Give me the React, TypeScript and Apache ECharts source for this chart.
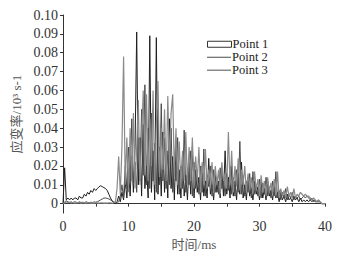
import React, { useEffect, useRef } from "react";
import * as echarts from "echarts";

const STEP = 0.25;

const point1 = [
  0.000, 0.019, 0.002, 0.003, 0.002, 0.003, 0.002, 0.003, 0.003, 0.002,
  0.004, 0.003, 0.003, 0.005, 0.004, 0.006, 0.005, 0.007, 0.006, 0.008,
  0.007, 0.008, 0.009, 0.0095, 0.009, 0.0085, 0.008, 0.007, 0.005, 0.003,
  0.0015, 0.0005, 0.000, 0.001, 0.004, 0.001, 0.006, 0.002, 0.012, 0.003,
  0.018, 0.004, 0.025, 0.006, 0.030, 0.091, 0.010, 0.035, 0.004, 0.042,
  0.008, 0.020, 0.003, 0.089, 0.006, 0.028, 0.002, 0.088, 0.005, 0.030,
  0.004, 0.038, 0.006, 0.022, 0.003, 0.045, 0.008, 0.025, 0.002, 0.030,
  0.005, 0.018, 0.003, 0.026, 0.004, 0.015, 0.002, 0.022, 0.005, 0.030,
  0.003, 0.018, 0.006, 0.014, 0.002, 0.020, 0.004, 0.012, 0.003, 0.024,
  0.005, 0.010, 0.002, 0.016, 0.006, 0.012, 0.003, 0.018, 0.004, 0.028,
  0.005, 0.014, 0.003, 0.020, 0.004, 0.012, 0.002, 0.016, 0.005, 0.022,
  0.003, 0.010, 0.002, 0.014, 0.004, 0.008, 0.002, 0.012, 0.005, 0.009,
  0.002, 0.011, 0.003, 0.008, 0.002, 0.012, 0.004, 0.007, 0.002, 0.009,
  0.003, 0.006, 0.001, 0.006, 0.002, 0.004, 0.001, 0.005, 0.002, 0.003,
  0.001, 0.004, 0.002, 0.003, 0.001, 0.003, 0.001, 0.002, 0.001, 0.002,
  0.001, 0.002, 0.001, 0.002, 0.001, 0.001, 0.001, 0.001, 0.000, 0.000,
  0.000,
];

const point2 = [
  0.000, 0.001, 0.0015, 0.001, 0.0005, 0.001, 0.0005, 0.001, 0.0008, 0.0005,
  0.001, 0.0006, 0.0008, 0.0005, 0.001, 0.0007, 0.0005, 0.0008, 0.0006, 0.0009,
  0.0008, 0.001, 0.0015, 0.002, 0.0025, 0.003, 0.003, 0.0028, 0.0025, 0.002,
  0.0015, 0.001, 0.0005, 0.0002, 0.001, 0.004, 0.010, 0.003, 0.020, 0.008,
  0.030, 0.012, 0.045, 0.010, 0.022, 0.006, 0.035, 0.012, 0.050, 0.015,
  0.063, 0.010, 0.040, 0.008, 0.048, 0.012, 0.032, 0.006, 0.050, 0.010,
  0.053, 0.012, 0.035, 0.008, 0.028, 0.010, 0.040, 0.006, 0.022, 0.012,
  0.035, 0.005, 0.020, 0.008, 0.039, 0.006, 0.018, 0.010, 0.028, 0.004,
  0.022, 0.008, 0.016, 0.005, 0.020, 0.006, 0.029, 0.004, 0.015, 0.009,
  0.020, 0.004, 0.018, 0.006, 0.014, 0.005, 0.019, 0.008, 0.013, 0.004,
  0.016, 0.007, 0.020, 0.005, 0.014, 0.004, 0.018, 0.006, 0.033, 0.005,
  0.015, 0.004, 0.012, 0.006, 0.016, 0.003, 0.017, 0.005, 0.010, 0.004,
  0.013, 0.003, 0.011, 0.005, 0.014, 0.004, 0.009, 0.003, 0.012, 0.004,
  0.017, 0.003, 0.007, 0.002, 0.006, 0.003, 0.008, 0.002, 0.005, 0.003,
  0.006, 0.002, 0.004, 0.003, 0.004, 0.002, 0.003, 0.004, 0.003, 0.004,
  0.003, 0.002, 0.003, 0.001, 0.002, 0.001, 0.002, 0.001, 0.000, 0.000,
  0.000,
];

const point3 = [
  0.000, 0.0005, 0.001, 0.0005, 0.0008, 0.0004, 0.0006, 0.0003, 0.0005, 0.0004,
  0.0006, 0.0003, 0.0005, 0.0004, 0.0003, 0.0005, 0.0004, 0.0003, 0.0004, 0.0003,
  0.0005, 0.0004, 0.0003, 0.0004, 0.0005, 0.0003, 0.0004, 0.0003, 0.0005, 0.0004,
  0.0003, 0.0005, 0.001, 0.008, 0.025, 0.005, 0.030, 0.078, 0.010, 0.035,
  0.006, 0.040, 0.012, 0.048, 0.008, 0.030, 0.055, 0.010, 0.035, 0.060,
  0.015, 0.058, 0.012, 0.045, 0.020, 0.060, 0.010, 0.042, 0.065, 0.014,
  0.040, 0.018, 0.050, 0.012, 0.057, 0.020, 0.048, 0.058, 0.015, 0.040,
  0.010, 0.033, 0.008, 0.028, 0.012, 0.038, 0.010, 0.030, 0.012, 0.035,
  0.008, 0.025, 0.012, 0.030, 0.006, 0.022, 0.010, 0.029, 0.008, 0.018,
  0.012, 0.022, 0.006, 0.020, 0.010, 0.018, 0.005, 0.022, 0.012, 0.016,
  0.008, 0.038, 0.010, 0.028, 0.006, 0.020, 0.009, 0.024, 0.007, 0.018,
  0.010, 0.020, 0.006, 0.016, 0.008, 0.014, 0.005, 0.017, 0.007, 0.013,
  0.004, 0.015, 0.006, 0.012, 0.004, 0.014, 0.006, 0.011, 0.005, 0.013,
  0.004, 0.017, 0.003, 0.008, 0.004, 0.007, 0.003, 0.009, 0.004, 0.006,
  0.003, 0.008, 0.003, 0.005, 0.004, 0.006, 0.005, 0.004, 0.005, 0.004,
  0.004, 0.003, 0.002, 0.003, 0.002, 0.001, 0.002, 0.001, 0.000, 0.000,
  0.000,
];

const seriesNames = ["Point 1", "Point 2", "Point 3"];
const seriesColors = ["#1e1e1e", "#4a4a4a", "#8a8a8a"];
const yTickValues = [0, 0.01, 0.02, 0.03, 0.04, 0.05, 0.06, 0.07, 0.08, 0.09, 0.1];
const xLabelValues = [0, 10, 20, 30, 40];

const SERIF = "'Liberation Serif', 'Noto Sans CJK SC', serif";

function toPairs(values: number[]) {
  return values.map((v, i) => [i * STEP, v]);
}

const legendText = { fontFamily: SERIF, fontSize: 12.5, lineHeight: 11, color: "#222", padding: [0, 0, 0, -4] };

export default function App() {
  const ref = useRef<HTMLDivElement>(null);
  useEffect(() => {
    if (!ref.current) return;
    const chart = echarts.init(ref.current, undefined, { renderer: "svg" });
    const all = [point1, point2, point3];
    chart.setOption({
      animation: false,
      backgroundColor: "#fff",
      grid: { left: 63, right: 14, top: 15, bottom: 41 },
      legend: [
        {
          left: 207,
          top: 38,
          padding: 0,
          itemWidth: 24,
          itemHeight: 6,
          textStyle: legendText,
          data: [{ name: "Point 1", icon: "rect", itemStyle: { color: "#fff", borderColor: "#333", borderWidth: 1 } }],
        },
        {
          left: 207,
          top: 51,
          padding: 0,
          itemWidth: 24,
          itemHeight: 1,
          textStyle: legendText,
          data: [{ name: "Point 2", icon: "rect", itemStyle: { color: seriesColors[1], borderWidth: 0 } }],
        },
        {
          left: 207,
          top: 64,
          padding: 0,
          itemWidth: 24,
          itemHeight: 1.5,
          textStyle: legendText,
          data: [{ name: "Point 3", icon: "rect", itemStyle: { color: seriesColors[2], borderWidth: 0 } }],
        },
      ],
      xAxis: {
        type: "value",
        min: 0,
        max: 40,
        interval: 5,
        name: "时间/ms",
        nameLocation: "middle",
        nameGap: 24,
        nameTextStyle: { fontFamily: SERIF, fontSize: 13, color: "#555" },
        axisLine: { lineStyle: { color: "#333", width: 1 } },
        axisTick: { length: 3, lineStyle: { color: "#333" } },
        axisLabel: {
          fontFamily: SERIF,
          fontSize: 14,
          color: "#333",
          margin: 6,
          formatter: (v: number) => (xLabelValues.includes(v) ? String(v) : ""),
        },
        splitLine: { show: false },
      },
      yAxis: {
        type: "value",
        min: -0.005,
        max: 0.1,
        name: "应变率/10³ s-1",
        nameLocation: "middle",
        nameGap: 40,
        nameTextStyle: { fontFamily: SERIF, fontSize: 13, color: "#555" },
        axisLine: { show: true, lineStyle: { color: "#333", width: 1 } },
        axisTick: { show: true, length: 3, customValues: yTickValues, lineStyle: { color: "#333" } },
        axisLabel: {
          fontFamily: SERIF,
          fontSize: 14,
          color: "#333",
          margin: 5,
          customValues: yTickValues,
          formatter: (v: number) => (Math.abs(v) < 1e-9 ? "0" : v.toFixed(2)),
        },
        splitLine: { show: false },
      },
      series: all.map((vals, k) => ({
        name: seriesNames[k],
        type: "line",
        data: toPairs(vals),
        showSymbol: false,
        symbol: "none",
        lineStyle: { color: seriesColors[k], width: k === 2 ? 1.2 : 1 },
        itemStyle: { color: seriesColors[k] },
        z: 2 + k,
      })),
    });
    return () => chart.dispose();
  }, []);
  return (
    <div
      ref={ref}
      style={{ position: "fixed", left: 0, top: 0, width: 339, height: 256 }}
    />
  );
}
